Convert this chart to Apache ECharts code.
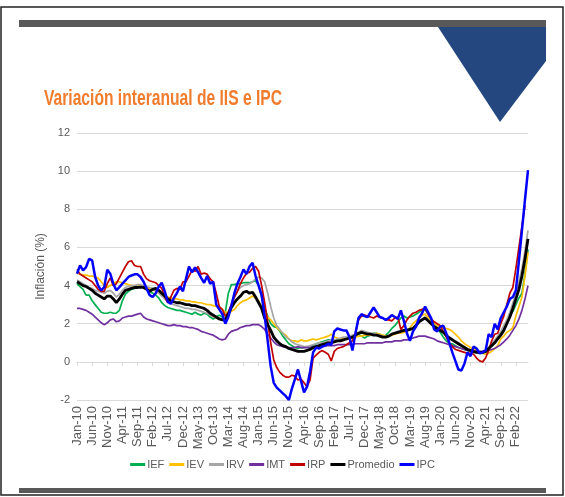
<!DOCTYPE html>
<html>
<head>
<meta charset="utf-8">
<script src="https://cdn.jsdelivr.net/npm/echarts@6/dist/echarts.min.js"></script>
<style>
html,body{margin:0;padding:0;background:#fff;}
#c{width:565px;height:497px;}
</style>
</head>
<body>
<div id="c"></div>
<script>
// ---- data ----
var monthNames = ['Jan','Feb','Mar','Apr','May','Jun','Jul','Aug','Sep','Oct','Nov','Dec'];
var startYear = 10, monthCount = 150;
var yTicks = [-2, 0, 2, 4, 6, 8, 10, 12];
var titleText = 'Variación interanual de IIS e IPC';
var yAxisName = 'Inflación (%)';

var IEF = [4.1,3.95,3.8,3.5,3.5,3.2,3.0,2.8,2.6,2.55,2.55,2.6,2.55,2.55,2.7,3.2,3.55,3.7,3.8,3.85,3.9,3.95,3.9,3.8,3.7,
 3.6,3.5,3.35,3.1,2.95,2.85,2.8,2.75,2.7,2.7,2.65,2.6,2.55,2.5,2.6,2.5,2.45,2.55,2.5,2.35,2.25,2.35,2.45,2.35,
 2.6,3.6,4.05,4.05,4.1,4.1,4.15,4.15,4.15,4.2,4.25,4.0,3.4,2.8,2.4,2.0,1.85,1.8,1.6,1.35,1.15,0.95,0.85,0.75,0.7,
 0.75,0.75,0.8,0.7,0.85,0.95,1.0,1.05,1.1,1.15,1.15,1.05,1.1,1.2,1.25,1.25,1.3,1.35,1.4,1.45,1.35,1.25,1.35,1.4,1.5,
 1.5,1.45,1.3,1.4,1.55,1.75,1.9,2.1,2.3,2.4,2.3,2.35,2.4,2.5,2.6,2.7,2.75,2.5,2.2,2.0,1.75,1.55,1.3,1.1,0.95,
 0.95,0.85,0.75,0.7,0.65,0.6,0.55,0.5,0.5,0.45,0.45,0.5,0.7,0.85,1.05,1.3,1.5,1.7,2.0,2.4,2.65,3.0,3.35,3.6,4.6,5.9];
var IEV = [4.65,4.6,4.55,4.55,4.5,4.5,4.45,4.4,4.2,4.0,3.9,4.0,4.1,4.2,4.2,4.15,4.1,4.05,4.0,4.0,4.0,3.95,3.95,3.9,3.85,
 3.8,3.7,3.6,3.5,3.45,3.4,3.35,3.3,3.3,3.25,3.25,3.2,3.2,3.15,3.15,3.1,3.1,3.05,3.0,3.0,2.95,2.9,2.85,2.75,
 2.6,2.6,2.65,2.75,2.95,3.1,3.2,3.25,3.35,3.45,3.35,3.2,2.9,2.6,2.35,2.2,2.0,1.8,1.65,1.5,1.4,1.2,1.1,1.1,1.05,
 1.15,1.1,1.1,1.15,1.2,1.15,1.2,1.25,1.3,1.35,1.45,1.3,1.25,1.2,1.2,1.2,1.2,1.25,1.3,1.35,1.35,1.4,1.4,1.4,1.45,
 1.5,1.45,1.4,1.35,1.35,1.4,1.45,1.5,1.5,1.55,1.6,1.8,2.0,2.15,2.3,2.45,2.5,2.3,2.1,2.0,1.9,1.85,1.8,1.75,1.7,
 1.6,1.45,1.3,1.1,0.95,0.85,0.75,0.65,0.6,0.5,0.45,0.4,0.45,0.55,0.7,0.85,1.2,1.35,1.55,1.65,1.8,2.4,2.9,3.4,4.5,5.75];
var IRV = [4.3,4.2,4.1,4.0,3.9,3.85,3.75,3.7,3.65,3.6,3.7,3.75,3.6,3.4,3.55,3.75,3.9,3.95,4.0,4.0,4.05,4.05,4.0,3.95,3.9,
 3.85,3.75,3.6,3.45,3.3,3.15,3.05,3.0,2.95,2.9,2.85,2.8,2.8,2.75,2.75,2.7,2.65,2.6,2.55,2.45,2.35,2.3,2.25,2.2,
 2.3,2.6,3.0,3.4,3.7,3.9,4.0,4.05,4.1,4.2,4.35,4.45,4.4,4.2,3.6,2.9,2.3,1.9,1.7,1.5,1.3,1.2,1.05,0.95,0.9,
 0.85,0.8,0.8,0.85,0.9,0.95,1.0,1.0,1.05,1.1,1.15,1.15,1.2,1.25,1.3,1.3,1.35,1.4,1.45,1.55,1.65,1.6,1.55,1.5,1.5,
 1.45,1.4,1.35,1.3,1.35,1.45,1.55,1.6,1.6,1.65,1.7,1.75,1.8,1.95,2.15,2.25,2.35,2.2,2.05,1.9,1.8,1.7,1.55,1.4,1.3,
 1.2,1.1,1.0,0.9,0.8,0.7,0.6,0.55,0.5,0.5,0.5,0.55,0.75,0.95,1.15,1.35,1.6,1.9,2.2,2.6,3.1,3.6,4.2,4.9,5.8,6.9];
var IMT = [2.8,2.8,2.75,2.7,2.6,2.5,2.35,2.2,2.05,1.95,2.05,2.2,2.25,2.1,2.15,2.3,2.35,2.4,2.4,2.45,2.5,2.55,2.35,2.25,2.2,
 2.15,2.1,2.05,2.0,1.95,1.9,1.9,1.95,1.9,1.9,1.85,1.85,1.8,1.8,1.75,1.7,1.6,1.55,1.5,1.45,1.4,1.3,1.2,1.15,
 1.2,1.45,1.6,1.65,1.7,1.8,1.85,1.9,1.9,1.95,1.95,1.95,1.85,1.7,1.45,1.25,1.05,0.9,0.85,0.8,0.75,0.75,0.75,0.75,0.8,
 0.75,0.75,0.75,0.75,0.8,0.8,0.8,0.8,0.85,0.85,0.85,0.85,0.9,0.9,0.9,0.9,0.9,0.9,0.95,0.95,0.95,0.95,1.0,1.0,1.0,
 1.0,1.0,1.0,1.05,1.05,1.05,1.1,1.1,1.1,1.15,1.15,1.2,1.25,1.3,1.35,1.35,1.35,1.3,1.25,1.2,1.1,1.05,1.0,0.95,0.9,
 0.85,0.8,0.75,0.7,0.65,0.6,0.6,0.55,0.55,0.55,0.55,0.6,0.6,0.65,0.7,0.8,0.9,1.05,1.2,1.4,1.65,1.9,2.25,2.7,3.3,4.0];
var IRP = [4.85,4.6,4.5,4.4,4.3,4.2,4.0,3.8,3.7,3.7,4.1,4.4,4.0,4.1,4.4,4.7,5.0,5.25,5.3,5.05,5.0,5.0,4.6,4.35,4.25,
 4.2,4.15,4.0,3.85,3.4,3.1,3.4,3.75,3.85,3.8,4.2,4.2,4.5,4.8,4.75,5.0,4.6,4.65,4.6,4.35,4.2,3.6,2.9,2.75,
 2.4,2.6,3.0,3.4,3.7,4.1,4.4,4.65,4.7,4.9,5.0,4.75,4.0,3.1,2.1,1.0,0.1,-0.3,-0.55,-0.7,-0.8,-0.8,-0.7,-0.75,-0.95,
 -0.9,-1.1,-1.3,-0.95,0.2,0.35,0.5,0.6,0.5,0.4,0.05,0.55,0.7,0.75,0.8,0.9,1.0,1.1,1.5,2.2,2.4,2.45,2.4,2.35,2.3,
 2.4,2.35,2.3,2.2,2.2,2.15,2.3,2.35,1.7,1.9,2.2,2.4,2.55,2.6,2.7,2.75,2.8,2.5,2.25,2.1,2.0,1.9,1.6,1.3,1.0,
 0.8,0.65,0.6,0.55,0.5,0.45,0.45,0.4,0.2,0.05,0.0,0.2,0.6,1.1,1.45,1.5,2.0,2.4,3.0,3.6,3.9,4.9,6.0,7.1,8.2,null];
var Promedio = [4.2,4.1,4.0,3.95,3.85,3.75,3.6,3.5,3.4,3.3,3.45,3.45,3.3,3.1,3.3,3.55,3.75,3.8,3.85,3.9,3.9,3.92,3.9,3.8,3.7,
 3.8,3.85,3.75,3.6,3.45,3.3,3.2,3.15,3.1,3.1,3.05,3.0,3.0,2.95,2.95,2.9,2.85,2.8,2.7,2.55,2.45,2.35,2.25,2.2,
 2.2,2.5,2.85,3.1,3.3,3.45,3.65,3.7,3.6,3.65,3.4,3.1,2.8,2.3,1.95,1.65,1.3,1.1,0.95,0.85,0.8,0.7,0.65,0.6,0.55,
 0.55,0.55,0.6,0.65,0.75,0.8,0.85,0.9,0.95,1.0,1.0,1.05,1.1,1.1,1.15,1.2,1.25,1.3,1.4,1.5,1.55,1.5,1.45,1.45,1.4,
 1.4,1.35,1.3,1.3,1.35,1.45,1.5,1.55,1.6,1.65,1.65,1.7,1.75,1.9,2.1,2.2,2.3,2.15,2.0,1.85,1.75,1.65,1.55,1.4,1.25,
 1.15,1.05,0.95,0.85,0.75,0.65,0.6,0.55,0.5,0.5,0.5,0.55,0.7,0.85,1.0,1.2,1.4,1.65,2.0,2.35,2.8,3.3,3.8,4.5,5.4,6.45];
var IPC = [4.62,5.06,4.8,4.97,5.4,5.32,4.45,4.0,3.75,3.92,4.83,4.62,4.1,3.75,3.92,4.1,4.27,4.45,4.53,4.59,4.59,4.45,4.2,3.84,3.5,
 3.4,3.6,3.95,4.15,3.7,3.15,3.05,3.35,3.6,3.95,3.7,4.35,5.0,4.7,4.95,4.7,4.4,4.15,4.5,4.1,4.2,3.0,2.75,2.5,
 2.0,2.35,2.95,3.6,4.1,4.45,4.85,4.6,5.0,5.2,4.5,4.0,3.5,2.4,1.1,-0.25,-1.1,-1.35,-1.5,-1.65,-1.8,-2.0,-1.4,-0.9,-0.4,
 -1.0,-1.6,-1.3,-0.5,0.5,0.75,0.7,0.8,0.85,0.95,0.9,1.6,1.75,1.7,1.65,1.65,1.3,0.6,1.5,2.3,2.5,2.4,2.35,2.6,2.85,
 2.6,2.35,2.3,2.2,2.3,2.45,2.35,2.25,2.7,2.15,1.5,1.1,1.6,1.85,2.3,2.55,2.9,2.6,2.3,1.7,1.6,1.85,1.9,1.5,1.0,
 0.5,0.05,-0.4,-0.45,-0.1,0.5,0.3,0.8,0.7,0.45,0.5,0.6,1.45,1.3,2.0,1.7,2.3,2.6,2.9,3.3,3.4,3.75,5.3,6.9,8.5,10.05];

var seriesNames = ['IEF','IEV','IRV','IMT','IRP','Promedio','IPC'];
var seriesData = [IEF, IEV, IRV, IMT, IRP, Promedio, IPC];
var seriesColors = ['#00B050','#FFC000','#A6A6A6','#7030A0','#C00000','#000000','#0000FF'];
var seriesWidths = [1.7,1.7,1.7,1.7,1.7,2.8,2.5];

var categories = [];
for (var k = 0; k < monthCount; k++) {
  var yy = startYear + Math.floor(k / 12);
  categories.push(monthNames[k % 12] + '-' + (yy < 10 ? '0' + yy : yy));
}

// narrow-looking title: measure and squeeze to target width
var titleFont = 'bold 22px "Liberation Sans", Arial, sans-serif';
var mctx = document.createElement('canvas').getContext('2d');
mctx.font = titleFont;
var titleScale = 238 / mctx.measureText(titleText).width;

var chart = echarts.init(document.getElementById('c'), null, {renderer: 'canvas'});
var txt = '#595959';
var option = {
  animation: false,
  backgroundColor: '#ffffff',
  grid: {left: 77, right: 37, top: 133, bottom: 97, containLabel: false},
  graphic: [
    {type: 'rect', shape: {x: 1, y: 7, width: 562, height: 488}, style: {fill: 'none', stroke: '#222', lineWidth: 1.5}, z: 10},
    {type: 'rect', shape: {x: 19, y: 20, width: 527, height: 7}, style: {fill: '#595959'}, z: 10},
    {type: 'polygon', shape: {points: [[438, 27], [546, 27], [546, 61], [500, 122]]}, style: {fill: '#24477F'}, z: 10},
    {type: 'rect', shape: {x: 19, y: 488, width: 527, height: 5}, style: {fill: '#595959'}, z: 10},
    {type: 'text', x: 44, y: 88, scaleX: titleScale, scaleY: 1, style: {text: titleText, fill: '#F07C2E', font: titleFont}, z: 10}
  ],
  legend: {
    data: seriesNames,
    bottom: 22,
    left: 'center',
    icon: 'rect',
    itemWidth: 15,
    itemHeight: 3,
    itemGap: 5,
    textStyle: {color: txt, fontSize: 11, fontFamily: '"Liberation Sans", Arial, sans-serif', padding: [0, 0, 0, -3]}
  },
  xAxis: {
    type: 'category',
    data: categories,
    boundaryGap: false,
    axisLine: {show: true, lineStyle: {color: '#D9D9D9', width: 1}},
    axisTick: {show: true, interval: 4, length: 4, lineStyle: {color: '#D9D9D9'}},
    axisLabel: {interval: 4, rotate: 90, color: txt, fontSize: 13, fontFamily: '"Liberation Sans", Arial, sans-serif', margin: 6},
    splitLine: {show: false}
  },
  yAxis: {
    type: 'value',
    min: yTicks[0],
    max: yTicks[yTicks.length - 1],
    interval: 2,
    name: yAxisName,
    nameLocation: 'middle',
    nameGap: 21,
    nameTextStyle: {color: txt, fontSize: 12, fontFamily: '"Liberation Sans", Arial, sans-serif'},
    axisLine: {show: false},
    axisTick: {show: false},
    axisLabel: {color: txt, fontSize: 11, fontFamily: '"Liberation Sans", Arial, sans-serif', margin: 7},
    splitLine: {lineStyle: {color: '#D9D9D9', width: 1}}
  },
  series: seriesNames.map(function (n, i) {
    return {
      name: n,
      type: 'line',
      data: seriesData[i],
      showSymbol: false,
      symbol: 'none',
      smooth: false,
      connectNulls: false,
      lineStyle: {color: seriesColors[i], width: seriesWidths[i]},
      itemStyle: {color: seriesColors[i]},
      z: 2 + i
    };
  })
};
chart.setOption(option);
</script>
</body>
</html>
